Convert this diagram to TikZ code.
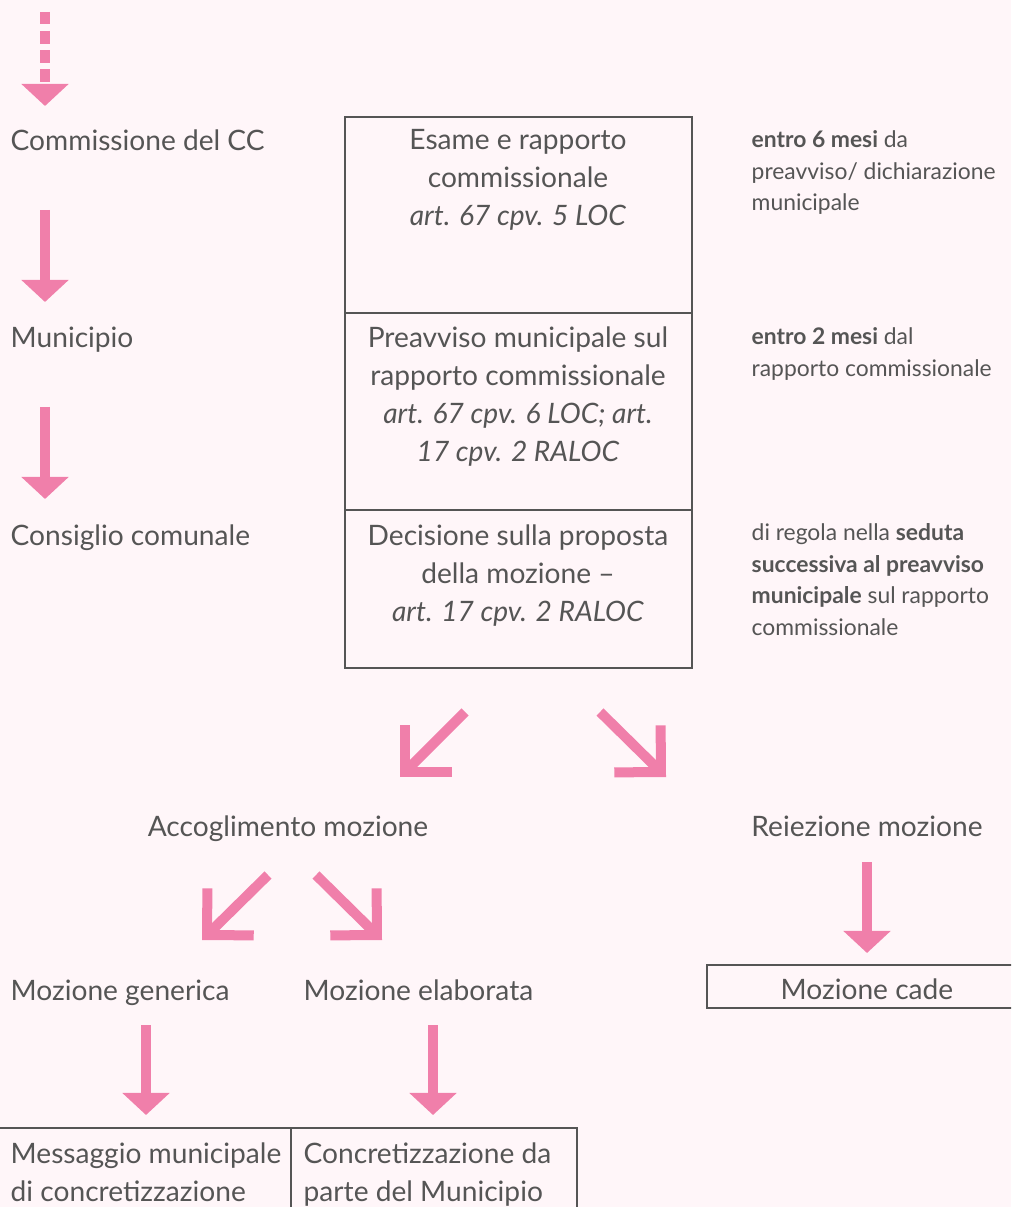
\documentclass[tikz,border=0pt]{standalone}
\usepackage{fontspec}
\setmainfont{Lato}
\usetikzlibrary{arrows.meta}

\definecolor{bgpink}{HTML}{FFF6F9}
\definecolor{arrowpink}{HTML}{F07FAA}
\definecolor{textgray}{HTML}{555555}

\tikzset{
  lbl/.style={anchor=base west, inner sep=0pt, text=textgray, font=\fontsize{8}{10.8}\selectfont},
  ctr/.style={anchor=base, inner sep=0pt, text=textgray, font=\fontsize{8}{10.8}\selectfont},
  boxtxt/.style={anchor=north, inner sep=0pt, align=center, text=textgray, font=\fontsize{8}{10.8}\selectfont},
  multi/.style={anchor=north west, inner sep=0pt, align=left, text=textgray, font=\fontsize{8}{10.8}\selectfont},
  note/.style={anchor=north west, inner sep=0pt, align=left, text=textgray, font=\fontsize{6.5}{8.95}\selectfont},
  frame/.style={draw=textgray, line width=0.4pt},
  down/.style={draw=arrowpink, line width=0.1cm, -{Triangle[width=0.46cm,length=0.22cm]}},
  slant/.style={draw=arrowpink, line width=0.1cm, -{Straight Barb[width=0.66cm,length=0.33cm]}}
}

\begin{document}
\begin{tikzpicture}[x=0.01cm, y=-0.01cm]
\fill[bgpink] (0,0) rectangle (1011,1207);
\clip (0,0) rectangle (1011,1207);

% left column
\node[lbl] (comm) at (10,151) {Commissione del CC};
\node[lbl] (muni) at (10,348) {Municipio};
\node[lbl] (cons) at (10,546) {Consiglio comunale};

\coordinate (s0) at (45,12);  \coordinate (e0) at (45,106);
\coordinate (s1) at (45,210); \coordinate (e1) at (45,302);
\coordinate (s2) at (45,407); \coordinate (e2) at (45,499);
\draw[down, dash pattern=on 0.125cm off 0.065cm] (s0) -- (e0);
\draw[down] (s1) -- (e1);
\draw[down] (s2) -- (e2);

% middle column
\draw[frame] (345,117) rectangle (692,313);
\draw[frame] (345,313) rectangle (692,510);
\draw[frame] (345,510) rectangle (692,668);
\node[boxtxt] (esame) at (518,129) {Esame e rapporto\\commissionale\\\textit{art. 67 cpv. 5 LOC}};
\node[boxtxt] (preav) at (518,326) {Preavviso municipale sul\\rapporto commissionale\\\textit{art. 67 cpv. 6 LOC; art.}\\\textit{17 cpv. 2 RALOC}};
\node[boxtxt] (decis) at (518,524) {Decisione sulla proposta\\della mozione --\\\textit{art. 17 cpv. 2 RALOC}};

% right column
\node[note] (n1) at (751,130) {\textbf{entro 6 mesi} da\\preavviso/ dichiarazione\\municipale};
\node[note] (n2) at (751,327) {\textbf{entro 2 mesi} dal\\rapporto commissionale};
\node[note] (n3) at (751,523) {di regola nella \textbf{seduta}\\\textbf{successiva al preavviso}\\\textbf{municipale} sul rapporto\\commissionale};

% decision
\coordinate (ls) at (465,712); \coordinate (le) at (400,777);
\coordinate (rs) at (600,712); \coordinate (re) at (666,777);
\draw[slant] (ls) -- (le);
\draw[slant] (rs) -- (re);

\node[ctr] (acc) at (288,836) {Accoglimento mozione};
\node[ctr] (rej) at (867,836) {Reiezione mozione};

\coordinate (s3) at (867,862); \coordinate (e3) at (867,953);
\draw[down] (s3) -- (e3);
\draw[frame] (707,965) rectangle (1040,1008);
\node[ctr] (cade) at (867,999) {Mozione cade};

\coordinate (als) at (268,875); \coordinate (ale) at (202,940);
\coordinate (ars) at (316,875); \coordinate (are) at (382,940);
\draw[slant] (als) -- (ale);
\draw[slant] (ars) -- (are);

\node[lbl] (gen) at (10,1000) {Mozione generica};
\node[lbl] (ela) at (303,1000) {Mozione elaborata};

\coordinate (s4) at (146,1025); \coordinate (e4) at (146,1115);
\coordinate (s5) at (433,1025); \coordinate (e5) at (433,1115);
\draw[down] (s4) -- (e4);
\draw[down] (s5) -- (e5);

\draw[frame] (-5,1128) rectangle (291,1240);
\draw[frame] (291,1128) rectangle (577,1240);
\node[multi] (msg) at (10,1142) {Messaggio municipale\\di concretizzazione};
\node[multi] (conc) at (303,1142) {Concretizzazione da\\parte del Municipio};
\end{tikzpicture}
\end{document}
